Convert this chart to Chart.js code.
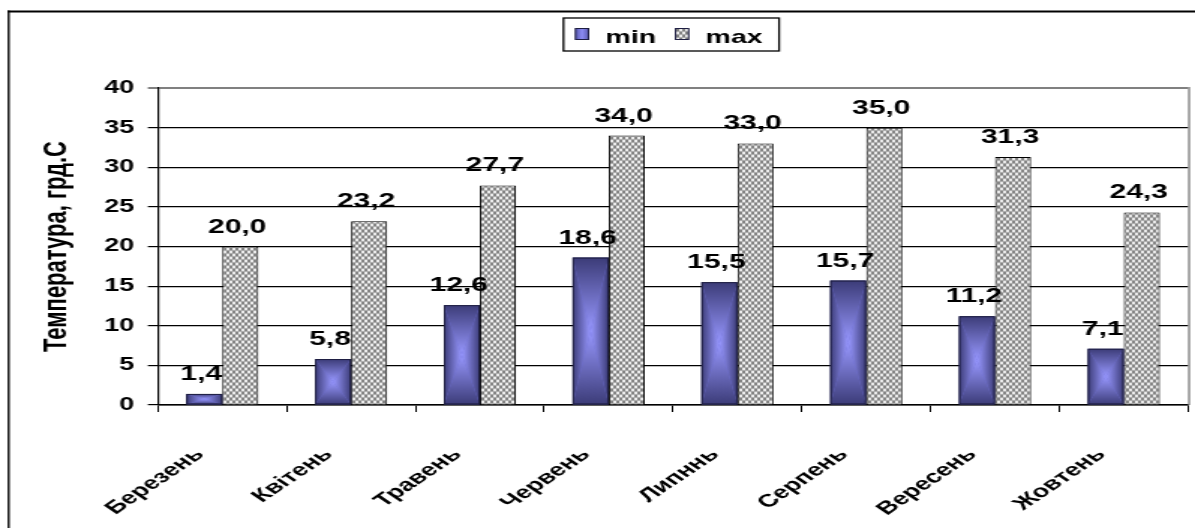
<!DOCTYPE html>
<html>
<head>
<meta charset="utf-8">
<script src="https://cdn.jsdelivr.net/npm/chart.js@4.4.0/dist/chart.umd.min.js"></script>
<style>
  html, body { margin: 0; padding: 0; background: #fff; overflow: hidden; }
  /* the chart is laid out on a narrower canvas and widened, so all text renders broad */
  #wrap { width: 797px; height: 528px; transform: scaleX(1.49937); transform-origin: 0 0; }
</style>
</head>
<body>
<div id="wrap"><canvas id="chart" width="797" height="528"></canvas></div>
<script>
// Monthly temperature extremes, °C
const months = ['Березень', 'Квітень', 'Травень', 'Червень', 'Липннь', 'Серпень', 'Вересень', 'Жовтень'];
const minTemps = [1.4, 5.8, 12.6, 18.6, 15.5, 15.7, 11.2, 7.1];
const maxTemps = [20.0, 23.2, 27.7, 34.0, 33.0, 35.0, 31.3, 24.3];
const seriesNames = ['min', 'max'];
const yTicks = [0, 5, 10, 15, 20, 25, 30, 35, 40];
const yTitle = 'Температура, грд.С';

const FONT = "'Liberation Sans', Arial, sans-serif";
const CAT_PCT = 0.56;
const fmt = v => v.toFixed(1).replace('.', ',');

// light-grey trellis fill for the "max" bars
function makeTrellis() {
  const t = document.createElement('canvas');
  t.width = 4; t.height = 6;
  const g = t.getContext('2d');
  const img = g.createImageData(4, 6);
  for (let y = 0; y < 6; y++) {
    for (let x = 0; x < 4; x++) {
      const cx = x + 0.5, cy = y + 0.5;
      const a = ((cx - cy * 2 / 3) % 4 + 4) % 4;
      const b = ((cx + cy * 2 / 3) % 4 + 4) % 4;
      const da = Math.min(a, 4 - a), db = Math.min(b, 4 - b);
      const d = Math.min(da, db);
      const k = Math.max(0, Math.min(1, 1 - d / 1.0));
      const v = Math.round(236 - k * 125);
      const o = (y * 4 + x) * 4;
      img.data[o] = v; img.data[o + 1] = v; img.data[o + 2] = v; img.data[o + 3] = 255;
    }
  }
  g.putImageData(img, 0, 0);
  return document.getElementById('chart').getContext('2d').createPattern(t, 'repeat');
}
const trellis = makeTrellis();

const EDGE = '#3c3c78';
const CORE = '#9898ff';

// rectangular "from centre" shading of a bar
function shadeRect(ctx, l, t, r, b) {
  const cx = (l + r) / 2, cy = (t + b) / 2;
  const tri = (pts, x0, y0, x1, y1) => {
    const g = ctx.createLinearGradient(x0, y0, x1, y1);
    g.addColorStop(0, EDGE); g.addColorStop(1, CORE);
    ctx.beginPath();
    ctx.moveTo(pts[0][0], pts[0][1]);
    ctx.lineTo(pts[1][0], pts[1][1]);
    ctx.lineTo(pts[2][0], pts[2][1]);
    ctx.closePath();
    ctx.fillStyle = g;
    ctx.fill();
  };
  tri([[l, t], [cx, cy], [l, b]], l, 0, cx, 0);
  tri([[r, t], [cx, cy], [r, b]], r, 0, cx, 0);
  tri([[l, t], [r, t], [cx, cy]], 0, t, 0, cy);
  tri([[l, b], [r, b], [cx, cy]], 0, b, 0, cy);
}

const framePlugin = {
  id: 'frame',
  beforeDraw(chart) {
    const ctx = chart.ctx;
    ctx.save();
    ctx.fillStyle = '#fff';
    ctx.fillRect(0, 0, chart.width, chart.height);
    ctx.strokeStyle = '#000';
    ctx.lineWidth = 1.35;
    ctx.beginPath();
    ctx.moveTo(5.8, 10.5); ctx.lineTo(5.8, chart.height);
    ctx.stroke();
    ctx.lineWidth = 2;
    ctx.beginPath();
    ctx.moveTo(5.1, 11.5); ctx.lineTo(chart.width, 11.5);
    ctx.stroke();
    ctx.restore();
  },
  beforeDatasetsDraw(chart) {
    const ctx = chart.ctx, a = chart.chartArea;
    ctx.save();
    ctx.strokeStyle = '#808080';
    ctx.lineWidth = 1.35;
    ctx.beginPath();
    ctx.moveTo(a.right + 0.6, a.top - 1); ctx.lineTo(a.right + 0.6, a.bottom);
    ctx.stroke();
    ctx.restore();
  },
  afterDatasetDraw(chart, args) {
    if (args.index !== 0) return;
    const ctx = chart.ctx;
    ctx.save();
    args.meta.data.forEach(bar => {
      const l = bar.x - bar.width / 2, r = bar.x + bar.width / 2;
      const t = bar.y, b = bar.base;
      shadeRect(ctx, l, t, r, b);
      ctx.strokeStyle = '#1e1e42';
      ctx.lineWidth = 1;
      ctx.strokeRect(l + 0.5, t + 0.5, r - l - 1, b - t - 1);
    });
    ctx.restore();
  },
  afterDatasetsDraw(chart) {
    const ctx = chart.ctx;
    ctx.save();
    ctx.font = 'bold 20px ' + FONT;
    ctx.fillStyle = '#000';
    ctx.textAlign = 'center';
    ctx.textBaseline = 'alphabetic';
    chart.data.datasets.forEach((ds, di) => {
      chart.getDatasetMeta(di).data.forEach((bar, i) => {
        ctx.fillText(fmt(ds.data[i]), bar.x - 2, bar.y - 14);
      });
    });
    ctx.restore();
  },
  afterDraw(chart) {
    // legend box with both series
    const ctx = chart.ctx;
    ctx.save();
    ctx.font = 'bold 19px ' + FONT;
    const pad = 8, mark = 8.7, gap = 11.3, between = 13, padR = 11;
    const w0 = ctx.measureText(seriesNames[0]).width;
    const w1 = ctx.measureText(seriesNames[1]).width;
    const total = pad + mark + gap + w0 + between + mark + gap + w1 + padR;
    const left = 447.7 - total / 2, top = 18, h = 33;
    ctx.fillStyle = '#fff';
    ctx.fillRect(left, top, total, h);
    ctx.strokeStyle = '#000';
    ctx.lineWidth = 1.3;
    ctx.strokeRect(left, top, total, h);
    let x = left + pad;
    seriesNames.forEach((name, i) => {
      if (i === 0) {
        const g = ctx.createLinearGradient(x, 0, x + mark, 0);
        g.addColorStop(0, '#5a5ab0'); g.addColorStop(0.5, '#8c8cf4'); g.addColorStop(1, '#5a5ab0');
        ctx.fillStyle = g;
      } else {
        ctx.fillStyle = trellis;
      }
      ctx.fillRect(x, 28.5, mark, 11);
      ctx.strokeStyle = '#1e1e42';
      ctx.lineWidth = 1;
      ctx.strokeRect(x, 28.5, mark, 11);
      x += mark + gap;
      ctx.fillStyle = '#000';
      ctx.textAlign = 'left';
      ctx.textBaseline = 'alphabetic';
      ctx.fillText(name, x, 42.5);
      x += (i === 0 ? w0 : w1) + between;
    });
    ctx.restore();
  }
};

new Chart(document.getElementById('chart'), {
  type: 'bar',
  data: {
    labels: months,
    datasets: [
      {
        label: seriesNames[0],
        data: minTemps,
        backgroundColor: '#6a6ad0',
        borderColor: '#1e1e42',
        borderWidth: 1,
        categoryPercentage: CAT_PCT,
        barPercentage: 1.0
      },
      {
        label: seriesNames[1],
        data: maxTemps,
        backgroundColor: trellis,
        borderColor: '#000',
        borderWidth: 1,
        categoryPercentage: CAT_PCT,
        barPercentage: 1.0
      }
    ]
  },
  options: {
    responsive: false,
    animation: false,
    events: [],
    layout: { padding: { left: 0, right: 3.7, top: 88, bottom: 0 } },
    plugins: {
      legend: { display: false },
      tooltip: { enabled: false }
    },
    scales: {
      x: {
        offset: true,
        grid: { display: true, offset: true, drawOnChartArea: false, drawTicks: true, tickLength: 7, color: '#000', lineWidth: 1 },
        border: { display: true, color: '#000', width: 1.6 },
        ticks: {
          autoSkip: false, minRotation: 45, maxRotation: 45,
          padding: 32, labelOffset: -15,
          color: '#000', font: { family: FONT, size: 18, weight: 'bold' }
        },
        afterFit(scale) { scale.height = 123; }
      },
      y: {
        min: 0, max: 40,
        afterBuildTicks(scale) { scale.ticks = yTicks.map(v => ({ value: v })); },
        grid: {
          drawTicks: true, tickLength: 6.7,
          color: c => (c.tick && c.tick.value === 40 ? '#808080' : '#000'),
          lineWidth: c => (c.tick && c.tick.value === 40 ? 2 : 1.2)
        },
        border: { display: true, color: '#000', width: 1.2 },
        ticks: { padding: 9, color: '#000', font: { family: FONT, size: 18, weight: 'bold' } },
        title: {
          display: true, text: yTitle, color: '#000',
          font: { family: FONT, size: 22, weight: 'bold' },
          padding: { top: 24.8, bottom: 0 }
        },
        afterFit(scale) { scale.width = 105.3; }
      }
    }
  },
  plugins: [framePlugin]
});
</script>
</body>
</html>
